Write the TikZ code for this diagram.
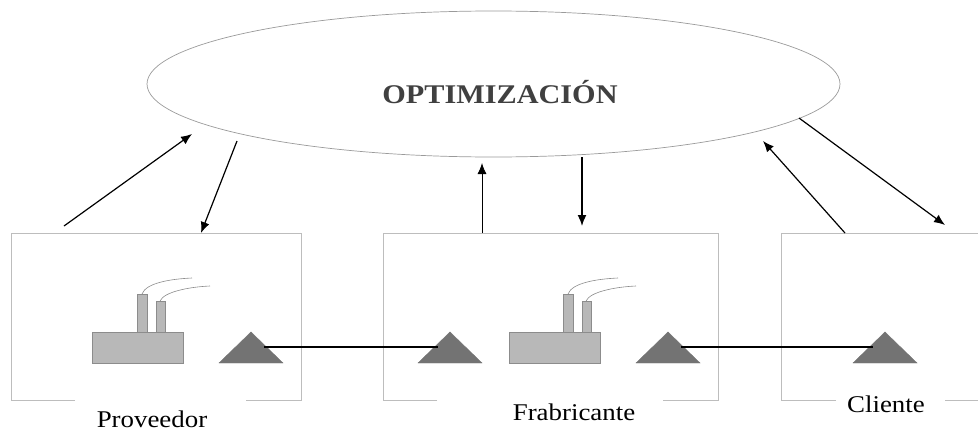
\documentclass[tikz,border=0pt]{standalone}
\usepackage{fontspec}
\setmainfont{Liberation Serif}
\usetikzlibrary{shapes.geometric,arrows.meta}
\definecolor{boxgray}{HTML}{BDBDBD}
\definecolor{ellgray}{HTML}{9A9A9A}
\definecolor{facfill}{HTML}{B8B8B8}
\definecolor{facline}{HTML}{8C8C8C}
\definecolor{trifill}{HTML}{737373}
\definecolor{titlegray}{HTML}{404040}
\tikzset{
  x=1pt,y=-1pt,
  framebox/.style={draw=boxgray,line width=0.9pt},
  factorypart/.style={draw=facline,fill=facfill,line width=0.8pt},
  smoke/.style={draw=facline,line width=0.6pt},
  storetri/.style={fill=trifill,draw=trifill,line width=0.4pt},
  flow/.style={draw=black,line width=1.2pt,-{Latex[length=11pt,width=9pt]}},
  thinflow/.style={flow,line width=0.9pt},
  thickflow/.style={flow,line width=1.6pt},
  link/.style={draw=black,line width=1.6pt},
  caption/.style={font=\fontsize{24}{26}\selectfont,text=black,inner sep=0pt,anchor=base,xscale=1.12},
}
\newcommand{\factory}[2]{%
  \draw[factorypart] (#2+137,294) rectangle (#2+147,332);
  \draw[factorypart] (#2+156,301) rectangle (#2+165,332);
  \draw[factorypart] (#1+92,332) rectangle (#1+183,363);
  \draw[smoke] (#2+142,294) .. controls (#2+146,283) and (#2+170,279) .. (#2+192,278);
  \draw[smoke] (#2+160,301) .. controls (#2+164,292) and (#2+188,287) .. (#2+210,286);}
\newcommand{\storetriangle}[1]{\draw[storetri] (#1-32,363) -- (#1,332) -- (#1+32,363) -- cycle;}
\begin{document}
\begin{tikzpicture}
\useasboundingbox (0,0) rectangle (978,431);
\node[ellipse,draw=ellgray,line width=0.7pt,minimum width=693pt,minimum height=146pt,inner sep=0pt] (opt) at (493.5,84) {};
\node[font=\fontsize{27}{29}\selectfont\bfseries,text=titlegray,inner sep=0pt,anchor=base,xscale=1.12] (title) at (500,103) {OPTIMIZACIÓN};
% frames
\draw[framebox] (75,400) -- (11,400) -- (11,233) -- (301,233) -- (301,400) -- (246,400);
\draw[framebox] (437,400) -- (383,400) -- (383,233) -- (718,233) -- (718,400) -- (663,400);
\draw[framebox] (836,400) -- (781,400) -- (781,233) -- (978,233);
\draw[framebox] (945,400) -- (978,400);
% factories
\factory{0}{0}
\factory{417}{426}
% triangles
\storetriangle{251}
\storetriangle{450}
\storetriangle{668}
\storetriangle{885}
% anchor points
\coordinate (pa) at (64,226);
\coordinate (pb) at (192,134);
\coordinate (pc) at (237,141);
\coordinate (pd) at (201,233);
\coordinate (fa) at (482,233);
\coordinate (fb) at (482,163);
\coordinate (fc) at (582,157);
\coordinate (fd) at (582,226);
\coordinate (ca) at (845,233);
\coordinate (cb) at (763,141);
\coordinate (cc) at (799,118);
\coordinate (cd) at (945,225);
\coordinate (t1) at (264,347);
\coordinate (t2) at (438,347);
\coordinate (t3) at (681,347);
\coordinate (t4) at (873,347);
% connectors
\draw[flow] (pa) -- (pb);
\draw[flow] (pc) -- (pd);
\draw[thinflow] (fa) -- (fb);
\draw[thickflow] (fc) -- (fd);
\draw[flow] (ca) -- (cb);
\draw[flow] (cc) -- (cd);
\draw[link] (t1) -- (t2);
\draw[link] (t3) -- (t4);
% captions
\node[caption] (prov) at (152,427) {Proveedor};
\node[caption] (frab) at (574,420) {Frabricante};
\node[caption] (cli) at (886,412) {Cliente};
\end{tikzpicture}
\end{document}
